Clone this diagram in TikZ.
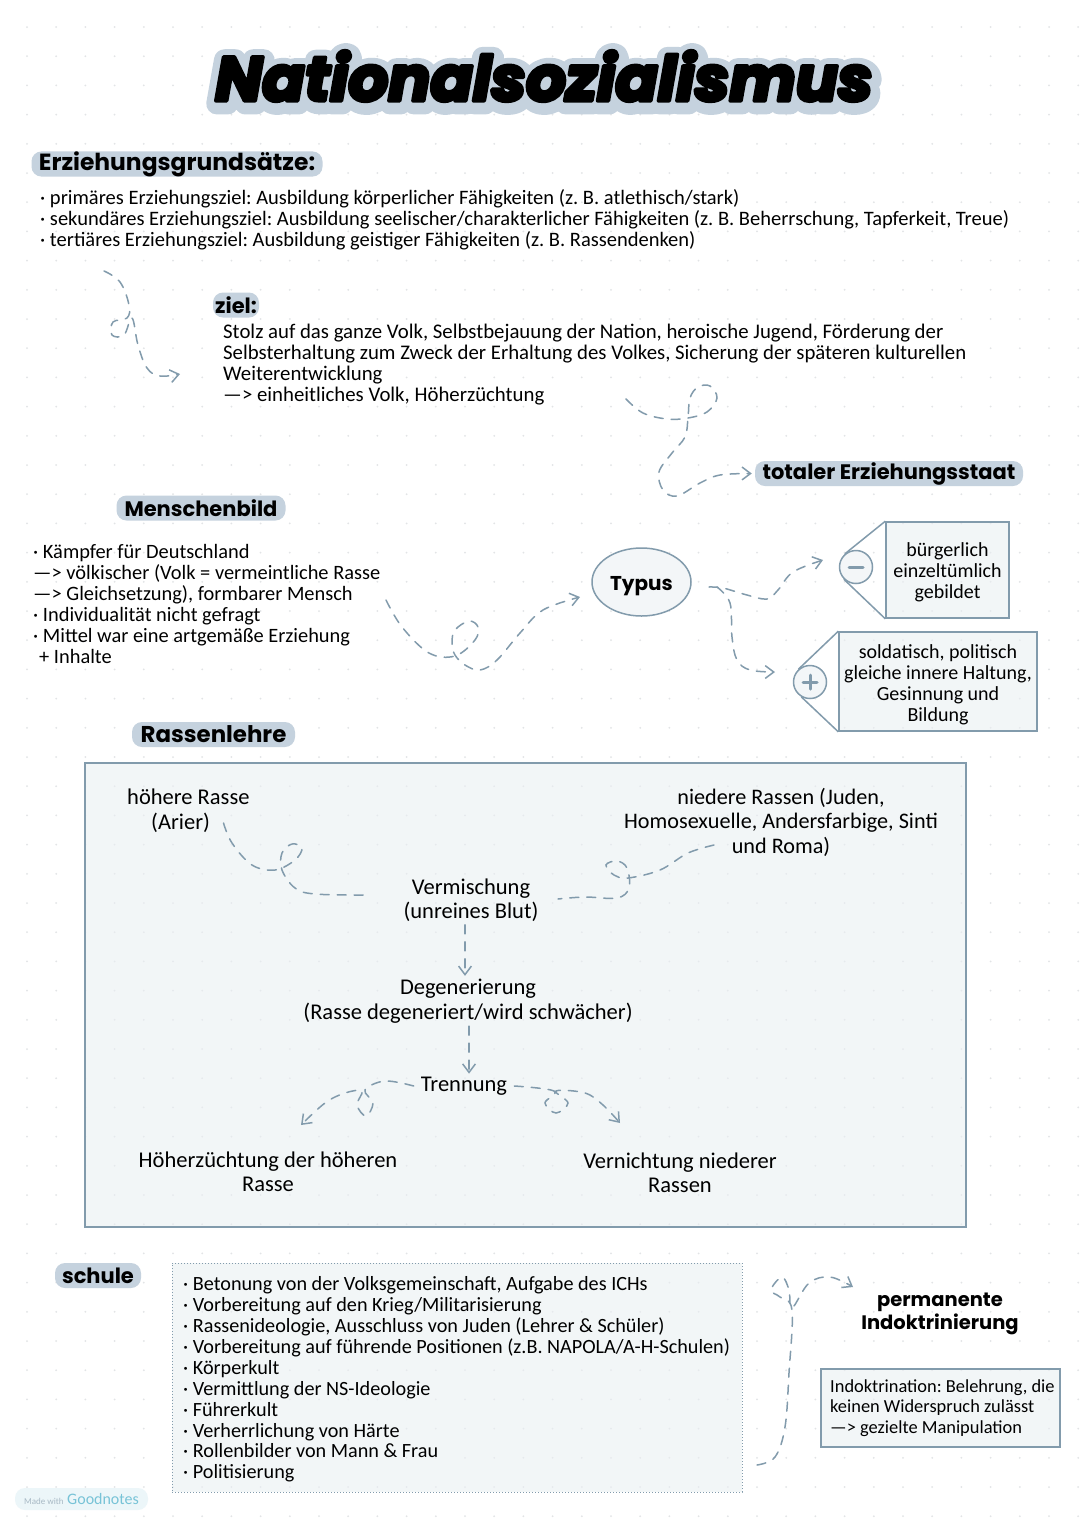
\documentclass[tikz,border=0pt]{standalone}
\usepackage{fontspec}
\setmainfont{Carlito}
\newfontfamily\headfont{Poppins}[Scale=1]
\newfontfamily\titleink{Poppins}[FakeBold=6]
\newfontfamily\titlehalo{Poppins}[FakeBold=34]
\usepackage{xcolor}
\definecolor{pillblue}{RGB}{197,210,222}
\definecolor{edgeblue}{RGB}{130,155,172}
\definecolor{panel}{RGB}{233,239,242}
\definecolor{panelsolid}{RGB}{243,246,248}
\definecolor{griddot}{RGB}{226,228,230}
\definecolor{badge}{RGB}{236,246,249}
\definecolor{goodteal}{RGB}{120,195,215}
\usetikzlibrary{arrows.meta,positioning,shapes.geometric}
\tikzset{
  pill/.style={fill=pillblue,rounded corners=10pt,font=\headfont\bfseries\fontsize{21}{24}\selectfont,%
    inner sep=0pt,minimum height=25pt,align=center},
  note/.style={font=\fontsize{20}{21}\selectfont,inner sep=0pt,align=left,anchor=north west},
  bignote/.style={font=\fontsize{22.5}{24.5}\selectfont,inner sep=0pt,align=center},
  sketchbox/.style={draw=edgeblue,line width=1.5pt,fill=panel,fill opacity=.55,text opacity=1,%
    inner sep=0pt,align=center},
  roundmark/.style={circle,draw=edgeblue,line width=1.5pt,fill=panelsolid,minimum size=33pt,inner sep=0pt},
  sketchline/.style={dash pattern=on 9pt off 8pt,draw=edgeblue,line width=1.5pt,line cap=round},
  flow/.style={sketchline,-{Straight Barb[length=3mm,width=4.5mm,line width=1.5pt]}},
}
\begin{document}
\frenchspacing
\begin{tikzpicture}[x=1pt,y=-1pt]
\useasboundingbox (0,0) rectangle (1080,1527);
\fill[white] (0,0) rectangle (1080,1527);
\foreach \i in {0,...,36}
  \foreach \j in {0,...,51}
    \fill[griddot] ({27+29.2*\i},{27+29.2*\j}) circle (1pt);

% title
\begin{scope}[line join=round]
\node[text=pillblue,font=\titlehalo\bfseries\itshape\fontsize{62.5}{70}\selectfont,inner sep=0pt] (titleback) at (545,79) {Nationalsozialismus};
\node[text=black,font=\titleink\bfseries\itshape\fontsize{62.5}{70}\selectfont,inner sep=0pt] (title) at (544,76) {Nationalsozialismus};
\end{scope}

% Erziehung
\node[pill,minimum width=291pt,font=\headfont\bfseries\fontsize{23.4}{24}\selectfont] (erz) at (177,164) {Erziehungsgrundsätze:};
\node[note,font=\fontsize{20.5}{21}\selectfont] (grund) at (40,189) {· primäres Erziehungsziel: Ausbildung körperlicher Fähigkeiten (z. B. atlethisch/stark)\\
· sekundäres Erziehungsziel: Ausbildung seelischer/charakterlicher Fähigkeiten (z. B. Beherrschung, Tapferkeit, Treue)\\
· tertiäres Erziehungsziel: Ausbildung geistiger Fähigkeiten (z. B. Rassendenken)};
\node[pill,minimum width=46pt] (ziel) at (236,305) {ziel:};
\node[note,font=\fontsize{20.8}{21}\selectfont] (zieltext) at (223,323.5) {Stolz auf das ganze Volk, Selbstbejauung der Nation, heroische Jugend, Förderung der\\
Selbsterhaltung zum Zweck der Erhaltung des Volkes, Sicherung der späteren kulturellen\\
Weiterentwicklung\\
—> einheitliches Volk, Höherzüchtung};
\coordinate (grundout) at (104,271);
\coordinate (zielin) at (180,374);
\draw[flow] plot[smooth,tension=.65] coordinates {(grundout) (120,282) (129,305) (127,318) (113,322) (112,335) (124,335) (132,318) (138,345) (147,368) (160,376) (zielin)};

\coordinate (zielout) at (626,399);
\node[pill,minimum width=268pt] (staat) at (889,473.5) {totaler Erziehungsstaat};
\draw[flow] plot[smooth,tension=.6] coordinates {(zielout) (643,413) (667,419) (688,418) (707,412) (717,398) (710,386) (698,387) (690,398) (688,418) (685,437) (672,453) (659,472) (663,490) (677,496) (700,483) (720,475) ([xshift=-3pt]staat.west)};

% Menschenbild
\node[pill,minimum width=169pt] (mensch) at (201,508) {Menschenbild};
\node[note,font=\fontsize{20.4}{21}\selectfont] (menschtext) at (33,544.5) {· Kämpfer für Deutschland\\
—> völkischer (Volk = vermeintliche Rasse\\
—> Gleichsetzung), formbarer Mensch\\
· Individualität nicht gefragt\\
· Mittel war eine artgemäße Erziehung\\
\hspace*{6pt}+ Inhalte};
\node[ellipse,draw=edgeblue,line width=1.5pt,fill=panelsolid,minimum width=99pt,minimum height=68pt,inner sep=0pt,%
  font=\headfont\bfseries\fontsize{20}{24}\selectfont] (typus) at (641.5,582) {\rule{0pt}{22pt}Typus};
\coordinate (menschout) at (386,600);
\coordinate (typusin) at (580,597);
\draw[flow] plot[smooth,tension=.6] coordinates {(menschout) (402,627) (429,653) (455,656) (475,640) (478,627) (469,621) (455,630) (452,643) (455,655) (465,665) (480,670) (497,660) (520,633) (543,610) (typusin)};

% Typus
\node[sketchbox,minimum width=123pt,minimum height=96pt,font=\fontsize{20}{21}\selectfont] (minus) at (947.5,570) {\rule{0pt}{18pt}bürgerlich\\einzeltümlich\\gebildet};
\node[roundmark] (minusmark) at (856,567) {};
\draw[edgeblue,line width=1.5pt] (minus.north west) -- (minusmark.130) (minusmark.225) -- (minus.south west);
\draw[edgeblue,line width=3pt,line cap=round] ([xshift=-7pt]minusmark.center) -- ([xshift=7pt]minusmark.center);
\node[sketchbox,minimum width=198pt,minimum height=99pt,font=\fontsize{20}{21}\selectfont] (plus) at (938,681.5) {\rule{0pt}{20pt}soldatisch, politisch\\gleiche innere Haltung,\\Gesinnung und\\Bildung};
\node[roundmark] (plusmark) at (810,682) {};
\draw[edgeblue,line width=1.5pt] (plus.north west) -- (plusmark.132) (plusmark.240) -- (plus.south west);
\draw[edgeblue,line width=3pt,line cap=round] ([xshift=-7pt]plusmark.center) -- ([xshift=7pt]plusmark.center) ([yshift=-7pt]plusmark.center) -- ([yshift=7pt]plusmark.center);
\coordinate (typusout) at (709,587);
\coordinate (typusbranch) at (717,587);
\coordinate (minusin) at (823,560);
\coordinate (plusin) at (775,672);
\draw[flow] plot[smooth,tension=.6] coordinates {(typusout) (723,588) (747,595) (767,599) (778,590) (793,572) (minusin)};
\draw[flow] plot[smooth,tension=.6] coordinates {(typusbranch) (730,603) (732,637) (737,660) (750,670) (plusin)};

% Rassenlehre
\node[pill,minimum width=163pt,font=\headfont\bfseries\fontsize{22.9}{24}\selectfont] (rasse) at (213.5,734.5) {Rassenlehre};
\node[sketchbox,minimum width=881pt,minimum height=464pt] (rassebox) at (525.5,995) {};
\node[bignote,align=left,anchor=north west] (hoehere) at (127,789) {höhere Rasse\\\hspace*{24pt}(Arier)};
\node[bignote,font=\fontsize{22.2}{24.5}\selectfont] (niedere) at (781,822) {niedere Rassen (Juden,\\Homosexuelle, Andersfarbige, Sinti\\und Roma)};
\node[bignote] (vermisch) at (471,900) {Vermischung\\(unreines Blut)};
\node[bignote] (degen) at (468,1001) {Degenerierung\\(Rasse degeneriert/wird schwächer)};
\node[bignote] (trennung) at (464,1086) {Trennung};
\node[bignote] (zuecht) at (268,1172) {Höherzüchtung der höheren\\Rasse};
\node[bignote] (vernicht) at (680,1173) {Vernichtung niederer\\Rassen};
\coordinate (hoehereout) at (223.5,823);
\coordinate (vermischl) at (365,895);
\coordinate (niedereout) at (714,845);
\coordinate (vermischr) at (558,899);
\draw[sketchline] plot[smooth,tension=.6] coordinates {(hoehereout) (232,843) (252,865) (275,870) (295,860) (302,848) (292,844) (282,853) (282,870) (295,888) (315,894) (vermischl)};
\draw[sketchline] plot[smooth,tension=.6] coordinates {(niedereout) (688,853) (660,870) (628,878) (614,875) (606,865) (617,861) (627,868) (629,888) (617,898) (585,897) (vermischr)};
\draw[flow] ([xshift=-6pt,yshift=-3pt]vermisch.south) -- ([xshift=-3pt,yshift=3pt]degen.north);
\draw[flow] ([xshift=1pt,yshift=-3pt]degen.south) -- ([xshift=5pt,yshift=3pt]trennung.north);
\coordinate (zuechtin) at (301,1125);
\coordinate (vernichtin) at (620,1123);
\draw[flow] plot[smooth,tension=.6] coordinates {([xshift=-7pt]trennung.west) (385,1081) (365,1090) (373,1103) (366,1116) (357,1105) (362,1091) (345,1093) (325,1103) (zuechtin)};
\draw[flow] plot[smooth,tension=.6] coordinates {([xshift=7pt]trennung.east) (554,1091) (545,1103) (556,1113) (568,1103) (556,1091) (585,1093) (603,1105) (vernichtin)};

% Schule
\node[pill,minimum width=86pt] (schule) at (98,1275.5) {schule};
\node[draw=edgeblue,dotted,line width=1pt,fill=panel,fill opacity=.55,text opacity=1,minimum width=570pt,minimum height=229pt,inner sep=0pt] (schulbox) at (457,1377.5) {};
\node[note,font=\fontsize{20.2}{20.9}\selectfont] (schultext) at (183,1276.5) {· Betonung von der Volksgemeinschaft, Aufgabe des ICHs\\
· Vorbereitung auf den Krieg/Militarisierung\\
· Rassenideologie, Ausschluss von Juden (Lehrer \& Schüler)\\
· Vorbereitung auf führende Positionen (z.B. NAPOLA/A-H-Schulen)\\
· Körperkult\\
· Vermittlung der NS-Ideologie\\
· Führerkult\\
· Verherrlichung von Härte\\
· Rollenbilder von Mann \& Frau\\
· Politisierung};
\coordinate (schulout) at (757,1465);
\coordinate (indokin) at (853,1287);
\draw[flow] plot[smooth,tension=.6] coordinates {(schulout) (775,1457) (785,1427) (789,1373) (792,1310) (780,1297) (771,1290) (782,1277) (789,1290) (792,1308) (809,1283) (830,1277) (indokin)};
\node[font=\headfont\bfseries\fontsize{19.5}{23}\selectfont,inner sep=0pt,align=center] (perma) at (940,1314) {permanente\\Indoktrinierung};
\node[sketchbox,minimum width=239pt,minimum height=78pt] (indok) at (940.5,1408) {};
\node[note,font=\fontsize{18.4}{20.5}\selectfont] (indoktext) at (830,1379.5) {Indoktrination: Belehrung, die\\keinen Widerspruch zulässt\\—> gezielte Manipulation};

% badge
\node[fill=badge,rounded corners=10pt,minimum width=133pt,minimum height=22pt,inner sep=0pt,font=\fontsize{16}{18}\selectfont,text=goodteal] (badgenode) at (81.5,1499) {{\fontsize{9}{10}\selectfont\color{edgeblue!70}Made with}\ Goodnotes};
\end{tikzpicture}
\end{document}
